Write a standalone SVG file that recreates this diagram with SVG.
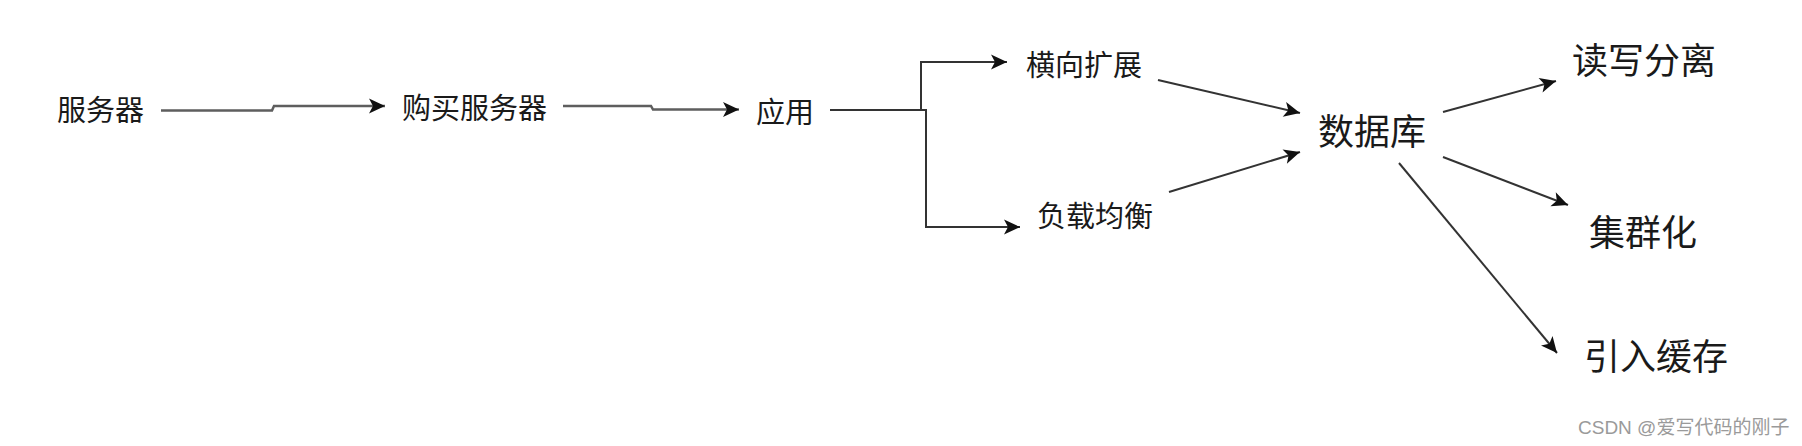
<svg xmlns="http://www.w3.org/2000/svg" width="1802" height="446" viewBox="0 0 1802 446">
<defs>
<style>
.t{font-family:"Noto Sans CJK SC","Microsoft YaHei",sans-serif;fill:#1a1a1a}
.s{font-size:29px}
.l{font-size:36px}
.c{fill:none;stroke:#333;stroke-width:2;marker-end:url(#ah)}
.h{stroke:#5e5e5e;stroke-width:2.5}
.wm{font-family:"Liberation Sans","Noto Sans CJK SC",sans-serif;font-size:19px;fill:#9a9a9a}
</style>
<marker id="ah" markerUnits="userSpaceOnUse" markerWidth="18" markerHeight="18" viewBox="0 0 18 18" refX="17" refY="9" orient="auto">
<path d="M1,1.5 L17,9 L1,16.5 L5,9 Z" fill="#111"/>
</marker>
</defs>
<rect width="1802" height="446" fill="#fff"/>
<g id="connectors">
<path class="c h" d="M161,110.5 H272 L274,106 H385"/>
<path class="c h" d="M563,106 H651 L653,109.5 H739"/>
<path class="c" d="M830,110 H921 V62 H1007"/>
<path class="c" d="M830,110 H926 V227 H1020"/>
<path class="c" d="M1158,80 L1300,113"/>
<path class="c" d="M1169,192 L1300,152"/>
<path class="c" d="M1443,112 L1556,81"/>
<path class="c" d="M1443,157 L1568,205"/>
<path class="c" d="M1399,163 L1557,353"/>
</g>
<g id="n-server"><text class="t s" x="57" y="121">服务器</text></g>
<g id="n-buy"><text class="t s" x="402" y="118.7">购买服务器</text></g>
<g id="n-app"><text class="t s" x="756" y="122.7">应用</text></g>
<g id="n-scale"><text class="t s" x="1026" y="75.7">横向扩展</text></g>
<g id="n-lb"><text class="t s" x="1037" y="226.7">负载均衡</text></g>
<g id="n-db"><text class="t l" x="1318" y="145.3">数据库</text></g>
<g id="n-rw"><text class="t l" x="1572" y="74.3">读写分离</text></g>
<g id="n-cluster"><text class="t l" x="1589" y="246.3">集群化</text></g>
<g id="n-cache"><text class="t l" x="1584" y="370.3">引入缓存</text></g>
<g id="watermark"><text class="wm" x="1578" y="434">CSDN @爱写代码的刚子</text></g>
</svg>
